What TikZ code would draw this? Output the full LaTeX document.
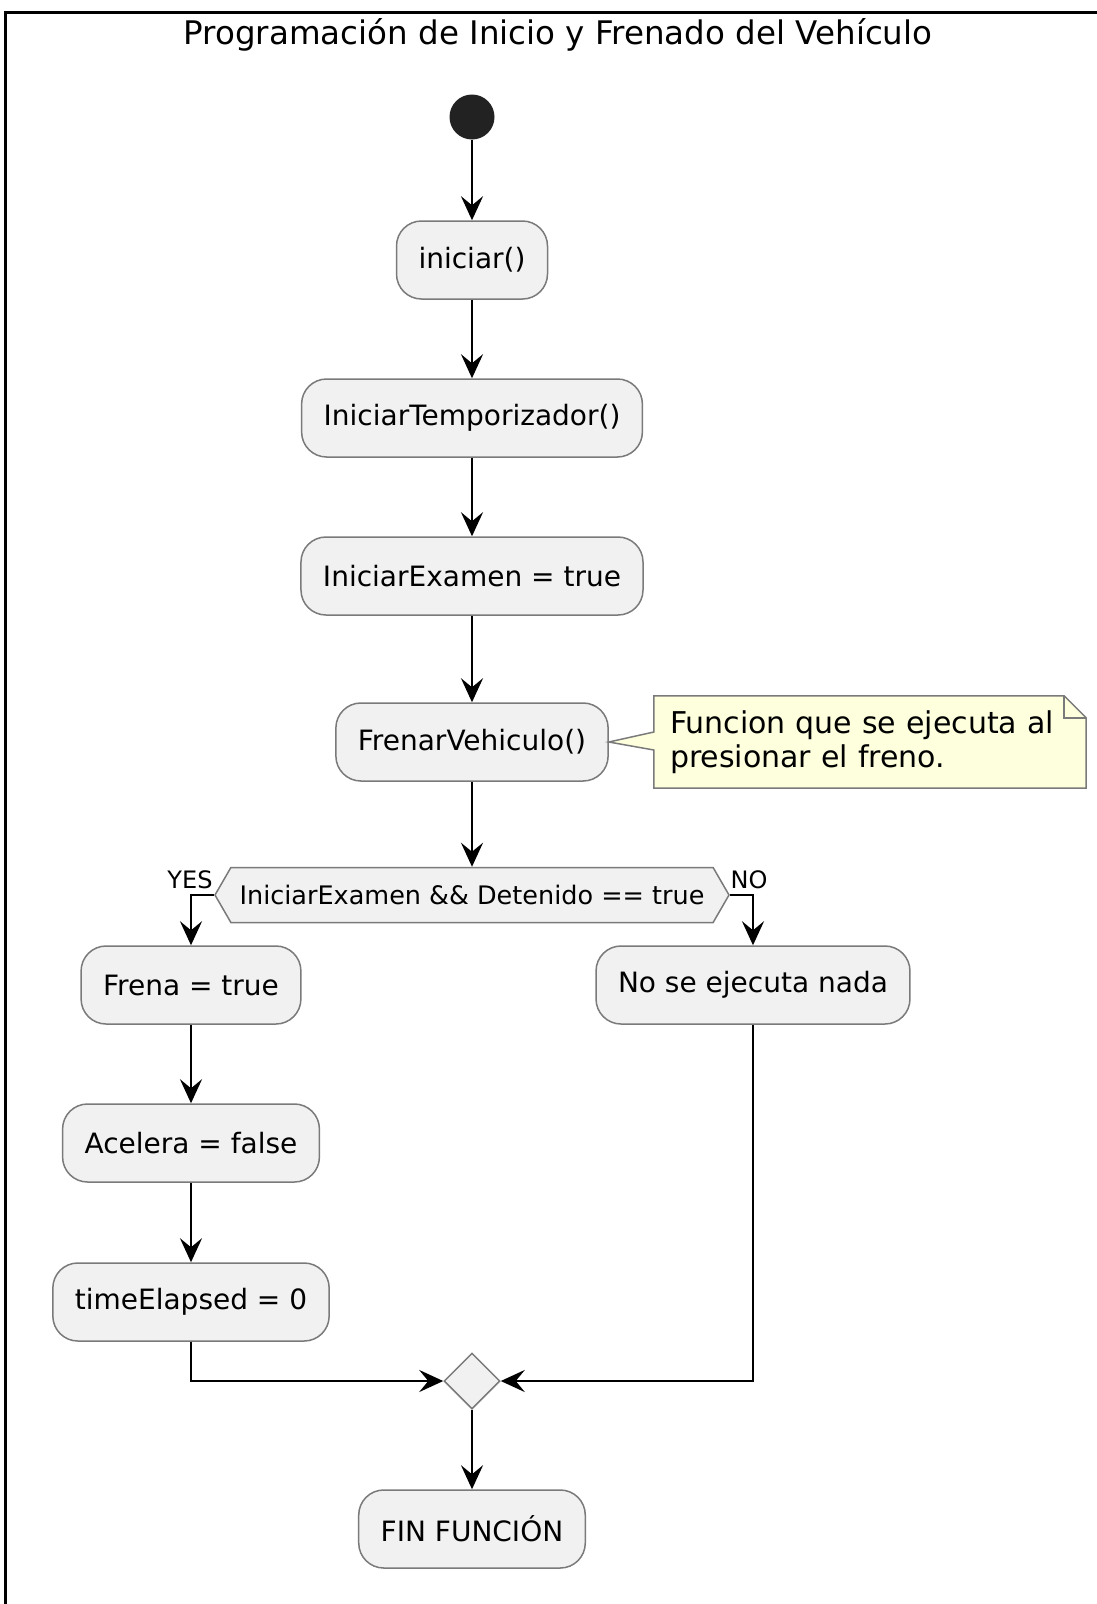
\documentclass[tikz,border=0pt]{standalone}
\usepackage{fontspec}
\setmainfont{DejaVu Sans}
\usetikzlibrary{shapes.geometric,shapes.symbols,arrows.meta,calc}
\definecolor{cajafondo}{HTML}{F1F1F1}
\definecolor{cajaborde}{HTML}{7A7A7A}
\definecolor{notafondo}{HTML}{FEFFDD}
\definecolor{puntoinicio}{HTML}{222222}
\tikzset{
  actividad/.style={rectangle, rounded corners=25pt, draw=cajaborde, line width=1.5pt, fill=cajafondo,
    minimum height=78pt, inner xsep=22pt, font=\fontsize{28}{32}\selectfont},
  flecha/.style={line width=2.5pt, -{Stealth[length=24pt,width=22pt,inset=9pt]}},
  etiqueta/.style={font=\fontsize{24}{28}\selectfont}
}
\newcommand{\actnodo}[3] {\node at (#1) (#2) [actividad] {#3};}
\newcommand{\flujo}[2] {\draw [flecha] (#1) -- (#2);}
\newcommand{\flujoquiebre}[3] {\draw [flecha] (#1) #3 (#2);}

\begin{document}
\begin{tikzpicture}[x=1pt,y=-1pt]
\useasboundingbox (0,0) rectangle (1097,1604);
\draw [line width=3pt] (5,1610) |- (1105,12);
\node at (558,35) (titulo) [font=\fontsize{32.5}{38}\selectfont] {Programación de Inicio y Frenado del Vehículo};

\node at (472,117) (inicio) [circle, fill=puntoinicio, minimum size=45pt, inner sep=0pt] {};
\actnodo {472,260} {iniciar} {iniciar()};
\actnodo {472,418} {temporizador} {IniciarTemporizador()};
\actnodo {472,576} {examen} {IniciarExamen = true};
\actnodo {472,742} {frenar} {FrenarVehiculo()};

\node at (870,742) (nota) [minimum width=432pt, minimum height=92pt, inner xsep=16pt, text width=400pt,
  align=left, font=\fontsize{30}{34}\selectfont] {};
\draw [cajaborde, line width=1.5pt, fill=notafondo]
  (nota.north west) -- ($(nota.north east)+(-22,0)$) -- ($(nota.north east)+(0,22)$) -- (nota.south east)
  -- (nota.south west) -- ($(nota.west)+(0,8)$) -- (frenar.east) -- ($(nota.west)+(0,-10)$) -- cycle;
\draw [cajaborde, line width=1.5pt] ($(nota.north east)+(-22,0)$) |- ($(nota.north east)+(0,22)$);
\node at (nota) [text width=400pt, align=left, font=\fontsize{30}{34}\selectfont] {Funcion que se ejecuta al\\presionar el freno.};

\node at (472,895) (cond) [signal, signal to=west and east, signal pointer angle=120, draw=cajaborde,
  line width=1.5pt, fill=cajafondo, minimum width=514pt, minimum height=55pt, inner sep=0pt,
  font=\fontsize{25.5}{30}\selectfont] {IniciarExamen \&\& Detenido == true};
\node at (190,880) (si) [etiqueta] {YES};
\node at (749,880) (no) [etiqueta] {NO};

\actnodo {191,985} {frena} {Frena = true};
\actnodo {753,985} {nada} {No se ejecuta nada};
\actnodo {191,1143} {acelera} {Acelera = false};
\actnodo {191,1302} {tiempo} {timeElapsed = 0};

\node at (472,1381) (union) [diamond, draw=cajaborde, fill=cajafondo, line width=1.5pt, minimum size=56pt, inner sep=0pt] {};
\actnodo {472,1529} {fin} {FIN FUNCIÓN};

\flujo{inicio}{iniciar};
\flujo{iniciar}{temporizador};
\flujo{temporizador}{examen};
\flujo{examen}{frenar};
\flujo{frenar.south}{cond.north};
\flujoquiebre{cond.west}{frena.north}{-|};
\flujoquiebre{cond.east}{nada.north}{-|};
\flujo{frena}{acelera};
\flujo{acelera}{tiempo};
\flujoquiebre{tiempo.south}{union.west}{|-};
\flujoquiebre{nada.south}{union.east}{|-};
\flujo{union}{fin};
\end{tikzpicture}
\end{document}
